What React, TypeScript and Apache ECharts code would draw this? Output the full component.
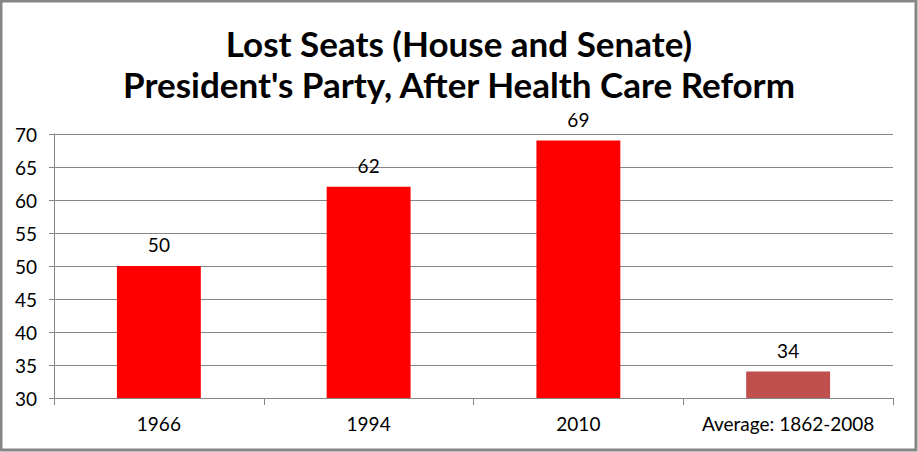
import React, { useEffect, useRef } from "react";
import * as echarts from "echarts";

const categories = ["1966", "1994", "2010", "Average: 1862-2008"];
const lostSeats = [50, 62, 69, 34];
const barColors = ["#FF0000", "#FF0000", "#FF0000", "#C0504D"];
const titleLines = ["Lost Seats (House and Senate)", "President's Party, After Health Care Reform"];

export default function App() {
  const ref = useRef<HTMLDivElement>(null);
  useEffect(() => {
    const chart = echarts.init(ref.current!, null, { renderer: "svg" });
    chart.setOption({
      animation: false,
      backgroundColor: "#FFFFFF",
      title: {
        text: titleLines.join("\n"),
        left: "center",
        top: 17,
        textStyle: {
          fontFamily: "Lato",
          fontWeight: "bold",
          fontSize: 35,
          lineHeight: 41,
          color: "#000000",
        },
      },
      grid: { left: 54, right: 25, top: 134, bottom: 54, containLabel: false },
      xAxis: {
        type: "category",
        data: categories,
        axisLine: { lineStyle: { color: "#868686", width: 1 } },
        axisTick: { show: true, length: 7, lineStyle: { color: "#868686" } },
        axisLabel: { interval: 0, fontFamily: "Lato", fontSize: 19, color: "#000000", margin: 16 },
      },
      yAxis: {
        type: "value",
        min: 30,
        max: 70,
        interval: 5,
        axisLine: { show: true, lineStyle: { color: "#868686", width: 1 } },
        axisTick: { show: true, length: 5, lineStyle: { color: "#868686" } },
        splitLine: { show: true, lineStyle: { color: "#868686", width: 1 } },
        axisLabel: { fontFamily: "Lato", fontSize: 19, color: "#000000", margin: 17 },
      },
      series: [
        {
          type: "bar",
          barWidth: "40%",
          data: lostSeats.map((v, i) => ({ value: v, itemStyle: { color: barColors[i] } })),
          label: {
            show: true,
            position: "top",
            distance: 12,
            fontFamily: "Lato",
            fontSize: 19,
            color: "#000000",
          },
        },
      ],
      graphic: [
        {
          type: "rect",
          shape: { x: 1, y: 1, width: 915, height: 449 },
          style: { fill: "none", stroke: "#868686", lineWidth: 3 },
          silent: true,
        },
      ],
    });
    return () => chart.dispose();
  }, []);
  return <div ref={ref} style={{ position: "fixed", left: 0, top: 0, width: 918, height: 452 }} />;
}
